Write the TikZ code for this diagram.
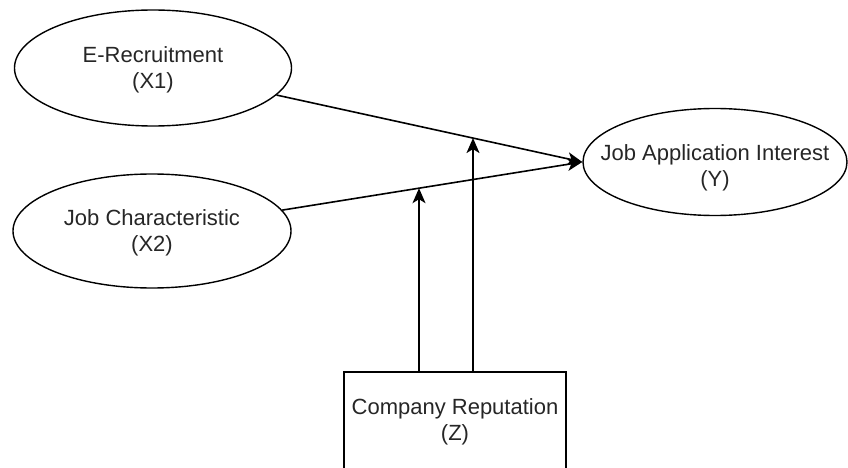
\documentclass[tikz,border=0pt]{standalone}
\usepackage{fontspec}
\setmainfont{Liberation Sans}
\usetikzlibrary{shapes.geometric,arrows.meta,intersections,calc}
\tikzset{
  conn/.style={line width=1.6pt, draw=black},
  arr/.style={conn, -{Stealth[length=15pt,width=13pt,inset=4pt]}},
  ell/.style={ellipse, draw=black, line width=1.4pt, inner xsep=-25pt, inner ysep=-5pt, align=center,
    font=\fontsize{22}{26}\selectfont, text=black!85},
  box/.style={rectangle, draw=black, line width=1.4pt, inner sep=0pt, align=center,
    font=\fontsize{22}{26}\selectfont, text=black!85}
}
\begin{document}
\begin{tikzpicture}[x=1pt,y=-1pt]
\useasboundingbox (0,0) rectangle (848,468);
\clip (0,0) rectangle (848,468);
\node[ell, minimum width=277pt, minimum height=116pt] (x1) at (153,68) {\rule{0pt}{20pt}E-Recruitment\\(X1)};
\node[ell, minimum width=278pt, minimum height=114pt] (x2) at (152,231) {\rule{0pt}{20pt}Job Characteristic\\(X2)};
\node[ell, minimum width=264pt, minimum height=107pt] (y) at (715,162) {\rule{0pt}{28pt}Job Application Interest\\(Y)};
\node[box, minimum width=222pt, minimum height=100pt] (z) at (455,422) {Company Reputation\\(Z)};
\draw[arr, name path=l1] (x1) -- (y.west);
\draw[arr, name path=l2] (x2) -- (y.west);
\coordinate (zb1) at ([xshift=-36pt]z.north);
\coordinate (zb2) at ([xshift=18pt]z.north);
\path[name path=v1] (zb1) -- ++(0,-300);
\path[name path=v2] (zb2) -- ++(0,-300);
\path[name intersections={of=v1 and l2, by=t1}];
\path[name intersections={of=v2 and l1, by=t2}];
\draw[arr] (zb1) -- (t1);
\draw[arr] (zb2) -- (t2);
\end{tikzpicture}
\end{document}
